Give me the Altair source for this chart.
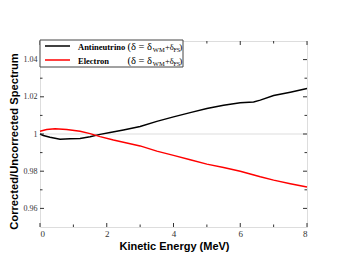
import altair as alt
import pandas as pd

# Antineutrino (black)
anu_x = [0.0, 0.1, 0.3, 0.6, 0.9, 1.2, 1.5, 1.8, 2.1, 2.5, 3.0, 3.5, 4.0, 4.5, 5.0, 5.5, 6.0, 6.4, 6.6, 7.0, 7.5, 8.0]
anu_y = [1.0000, 0.9992, 0.9983, 0.9972, 0.9974, 0.9976, 0.9985, 0.9998, 1.0008, 1.0022, 1.0040, 1.0068,
         1.0092, 1.0115, 1.0137, 1.0155, 1.0168, 1.0172, 1.0182, 1.0207, 1.0225, 1.0245]
# Electron (red)
ele_x = [0.0, 0.2, 0.45, 0.8, 1.2, 1.5, 1.8, 2.2, 2.6, 3.0, 3.5, 4.0, 4.5, 5.0, 5.5, 6.0, 6.3, 6.6, 7.0, 7.5, 8.0]
ele_y = [1.0015, 1.0024, 1.0028, 1.0024, 1.0015, 1.0002, 0.9986, 0.9968, 0.9952, 0.9936, 0.9908, 0.9885,
         0.9862, 0.9838, 0.9820, 0.9800, 0.9785, 0.9770, 0.9752, 0.9733, 0.9715]

series_names = ["Antineutrino", "Electron"]
series_colors = ["#000000", "#ff0000"]

x_major = [0, 2, 4, 6, 8]
x_minor = [1, 3, 5, 7]
y_major = [0.96, 0.98, 1.0, 1.02, 1.04]
y_minor = [0.97, 0.99, 1.01, 1.03]
ref_y = [1.0]

rows = [{"s": series_names[0], "x": a, "y": b, "o": i} for i, (a, b) in enumerate(zip(anu_x, anu_y))]
rows += [{"s": series_names[1], "x": a, "y": b, "o": i} for i, (a, b) in enumerate(zip(ele_x, ele_y))]
df = pd.DataFrame(rows)

W, H = 267, 186
XS = alt.Scale(domain=[0, 8], nice=False, zero=False)
YS = alt.Scale(domain=[0.95, 1.05], nice=False, zero=False)
AX_COL = "#333333"

label_expr = "datum.value == 1 ? '1' : format(datum.value, '.2f')"

X_AXIS = alt.Axis(
    values=x_major, ticks=False, domain=False, grid=False,
    title="Kinetic Energy (MeV)", titleFont="Liberation Sans", titleFontSize=11, titleFontWeight="bold",
    titleColor="#000", titleX=134, titleY=13, titleBaseline="top",
    labelFont="Liberation Serif", labelFontSize=9, labelColor="#333", labelPadding=2)
Y_AXIS = alt.Axis(
    values=y_major, ticks=False, domain=False, grid=False, labelExpr=label_expr,
    title="Corrected/Uncorrected Spectrum", titleFont="Liberation Sans", titleFontSize=11.2,
    titleFontWeight="bold", titleColor="#000", titleX=-21, titleY=100, titleAngle=-90,
    titleBaseline="bottom", titleAlign="center",
    labelFont="Liberation Serif", labelFontSize=8, labelColor="#333", labelPadding=3)

lines = alt.Chart(df).mark_line(strokeWidth=1.5).encode(
    x=alt.X("x:Q", scale=XS, axis=X_AXIS),
    y=alt.Y("y:Q", scale=YS, axis=Y_AXIS),
    color=alt.Color("s:N", scale=alt.Scale(domain=series_names, range=series_colors), legend=None),
    order="o:Q",
)

ref = alt.Chart(pd.DataFrame({"y": ref_y, "x0": [0], "x1": [8]})).mark_rule(
    color="#e8e8e8", strokeWidth=1.5).encode(
    x=alt.X("x0:Q", scale=XS, axis=X_AXIS), x2="x1:Q", y=alt.Y("y:Q", scale=YS, axis=Y_AXIS))

# inward ticks on all four sides
def xticks(vals, ln):
    d = alt.Chart(pd.DataFrame({"v": vals})).mark_rule(color=AX_COL, strokeWidth=1)
    xe = alt.X("v:Q", scale=XS, axis=X_AXIS)
    return [d.encode(x=xe, y=alt.value(H), y2=alt.value(H - ln)),
            d.encode(x=xe, y=alt.value(0), y2=alt.value(ln))]

def yticks(vals, ln):
    d = alt.Chart(pd.DataFrame({"v": vals})).mark_rule(color=AX_COL, strokeWidth=1)
    ye = alt.Y("v:Q", scale=YS, axis=Y_AXIS)
    return [d.encode(y=ye, x=alt.value(0), x2=alt.value(ln)),
            d.encode(y=ye, x=alt.value(W), x2=alt.value(W - ln))]

ticks = xticks(x_major, 4) + xticks(x_minor, 2.5) + yticks(y_major, 4) + yticks(y_minor, 2.5)

# legend box
one = pd.DataFrame({"a": [0]})
box = alt.Chart(one).mark_rect(fill="white", stroke="#444", strokeWidth=1).encode(
    x=alt.value(0), x2=alt.value(143), y=alt.value(-1), y2=alt.value(26))
leg_lines = [
    alt.Chart(one).mark_rule(color=c, strokeWidth=1.5).encode(
        x=alt.value(5), x2=alt.value(30), y=alt.value(yy))
    for c, yy in zip(series_colors, [5, 19])
]

def txt(t, x, y, size=9, weight="normal"):
    return alt.Chart(one).mark_text(
        text=t, align="left", baseline="alphabetic", font="Liberation Serif",
        fontSize=size, fontWeight=weight, color="#000").encode(x=alt.value(x), y=alt.value(y))

leg_texts = []
for name, yy in zip(series_names, [8.5, 22.5]):
    leg_texts += [
        txt(name, 38, yy, 8.5, "bold"),
        txt("(δ = δ", 87.5, yy, 10.5),
        txt("WM", 112.8, yy + 2.5, 6.5),
        txt("+δ", 125, yy, 8.5),
        txt("FS", 133.5, yy + 2.5, 6),
        txt(")", 139.3, yy, 9),
    ]

chart = alt.layer(
    ref, lines, *ticks, box, *leg_lines, *leg_texts
).properties(
    width=W, height=H,
    autosize=alt.AutoSizeParams(type="none"),
    padding={"left": 32, "top": 33, "right": 31, "bottom": 33},
).configure_view(stroke=AX_COL, strokeWidth=1.5).configure(background="white")

chart.save("out.html", embed_options={"renderer": "svg", "actions": False})
